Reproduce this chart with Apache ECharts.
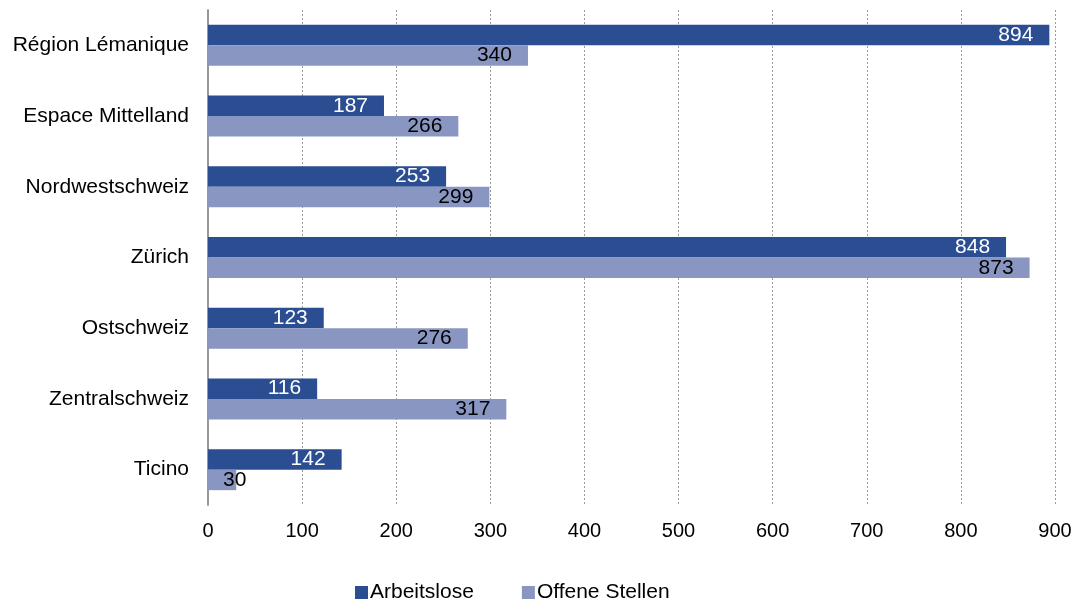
<!DOCTYPE html>
<html>
<head>
<meta charset="utf-8">
<script src="https://cdn.jsdelivr.net/npm/echarts@6/dist/echarts.min.js"></script>
<style>
html,body{margin:0;padding:0;background:#fff;}
#chart{width:1079px;height:601px;}
</style>
</head>
<body>
<div id="chart"></div>
<script>
const categories = ['Région Lémanique','Espace Mittelland','Nordwestschweiz','Zürich','Ostschweiz','Zentralschweiz','Ticino'];
const arbeitslose = [894, 187, 253, 848, 123, 116, 142];
const offeneStellen = [340, 266, 299, 873, 276, 317, 30];
const seriesNames = ['Arbeitslose','Offene Stellen'];
const xTicks = [0,100,200,300,400,500,600,700,800,900];

const FONT = '"Liberation Sans", Arial, sans-serif';
const DARK = '#2B4D92';
const LIGHT = '#8A96C2';

function toData(arr){
  return arr.map(v => v < 60 ? {value: v, label: {position: 'insideLeft', distance: 15}} : v);
}

const chart = echarts.init(document.getElementById('chart'), null, {renderer:'canvas'});
chart.setOption({
  animation: false,
  textStyle: {fontFamily: FONT},
  grid: {left: 208, right: 24, top: 10, bottom: 96, containLabel: false},
  legend: {
    top: 577, left: 350,
    itemWidth: 13, itemHeight: 13, itemGap: 48,
    icon: 'rect',
    textStyle: {fontFamily: FONT, fontSize: 21, color: '#000', padding: [0,0,0,-3]},
    data: seriesNames
  },
  xAxis: {
    type: 'value', min: xTicks[0], max: xTicks[xTicks.length-1], interval: 100,
    axisLine: {show: false},
    axisTick: {show: false},
    axisLabel: {fontFamily: FONT, fontSize: 20, color: '#000', margin: 16},
    splitLine: {show: true, lineStyle: {color: '#9a9a9a', type: [2,2], width: 1}}
  },
  yAxis: {
    type: 'category', data: categories, inverse: true,
    axisLine: {show: true, lineStyle: {color: '#999', width: 2}},
    axisTick: {show: false},
    axisLabel: {fontFamily: FONT, fontSize: 21, color: '#000', margin: 19}
  },
  series: [
    {
      name: seriesNames[0], type: 'bar', data: toData(arbeitslose),
      barGap: '0%', barCategoryGap: '42%',
      itemStyle: {color: DARK},
      label: {show: true, position: 'insideRight', distance: 16, color: '#fff', fontFamily: FONT, fontSize: 21}
    },
    {
      name: seriesNames[1], type: 'bar', data: toData(offeneStellen),
      barGap: '0%', barCategoryGap: '42%',
      itemStyle: {color: LIGHT},
      label: {show: true, position: 'insideRight', distance: 16, color: '#000', fontFamily: FONT, fontSize: 21}
    }
  ]
});
</script>
</body>
</html>
